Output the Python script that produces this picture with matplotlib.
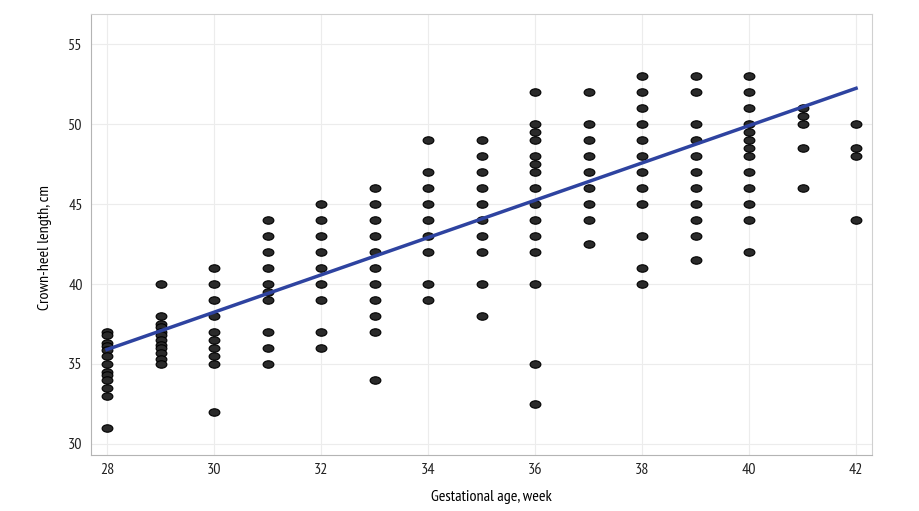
import numpy as np
import matplotlib
matplotlib.use('Agg')
import matplotlib.pyplot as plt
from matplotlib.path import Path
from matplotlib.transforms import Affine2D

plt.rcParams['font.family'] = ['PT Sans Narrow', 'DejaVu Sans']

# crown-heel length (cm) read per gestational week
lengths = {
    28: [37, 36.8, 36.3, 36.1, 35.9, 35.5, 35, 34.5, 34.3, 34, 33.5, 33, 31],
    29: [40, 38, 37.5, 37.3, 37, 36.8, 36.5, 36.2, 36, 35.7, 35.3, 35],
    30: [41, 40, 39, 38, 37, 36.5, 36, 35.5, 35, 32],
    31: [44, 43, 42, 41, 40, 39.5, 39, 37, 36, 35],
    32: [45, 44, 43, 42, 41, 40, 39, 37, 36],
    33: [46, 45, 44, 43, 42, 41, 40, 39, 38, 37, 34],
    34: [49, 47, 46, 45, 44, 43, 42, 40, 39],
    35: [49, 48, 47, 46, 45, 44, 43, 42, 40, 38],
    36: [52, 50, 49.5, 49, 48, 47.5, 47, 46, 45, 44, 43, 42, 40, 35, 32.5],
    37: [52, 50, 49, 48, 47, 46, 45, 44, 42.5],
    38: [53, 52, 51, 50, 49, 48, 47, 46, 45, 43, 41, 40],
    39: [53, 52, 50, 49, 48, 47, 46, 45, 44, 43, 41.5],
    40: [53, 52, 51, 50, 49.5, 49, 48.5, 48, 47, 46, 45, 44, 42],
    41: [51, 50.5, 50, 48.5, 46],
    42: [50, 48.5, 48, 44],
}

# fitted regression line end points
fit_weeks = [28, 42]
fit_length = [35.9, 52.25]

weeks = np.concatenate([[w] * len(v) for w, v in lengths.items()])
values = np.concatenate([v for v in lengths.values()])

# points are drawn as flattened ellipses
ellipse = Path.unit_circle().transformed(Affine2D().scale(1.45, 1.0))

fig = plt.figure(figsize=(9.19, 5.11), dpi=100)
ax = fig.add_axes([0.099, 0.1096, 0.85, 0.863])

ax.scatter(weeks, values, marker=ellipse, s=60, facecolor='#2a2a2a',
           edgecolor='#000000', linewidths=0.8, zorder=3)
ax.plot(fit_weeks, fit_length, color='#2e43a0', lw=2.5, zorder=4)

ax.set_xlim(27.7, 42.3)
ax.set_ylim(29.3, 56.9)
ax.set_xticks(range(28, 43, 2))
ax.set_yticks(range(30, 56, 5))
ax.grid(True, color='#ececec', lw=0.8, zorder=0)
ax.set_axisbelow(True)
ax.tick_params(length=0, labelsize=11.5, pad=6, colors='#222222')

for side in ['left', 'bottom']:
    ax.spines[side].set_color('#b4b4b4')
for side in ['top', 'right']:
    ax.spines[side].set_color('#d0d0d0')

ax.set_xlabel('Gestational age, week', fontsize=11.5)
ax.set_ylabel('Crown-heel length, cm', fontsize=11.5)
ax.xaxis.set_label_coords(0.512, -0.079)
ax.yaxis.set_label_coords(-0.05, 0.47)

fig.savefig('out.png', dpi=100)
